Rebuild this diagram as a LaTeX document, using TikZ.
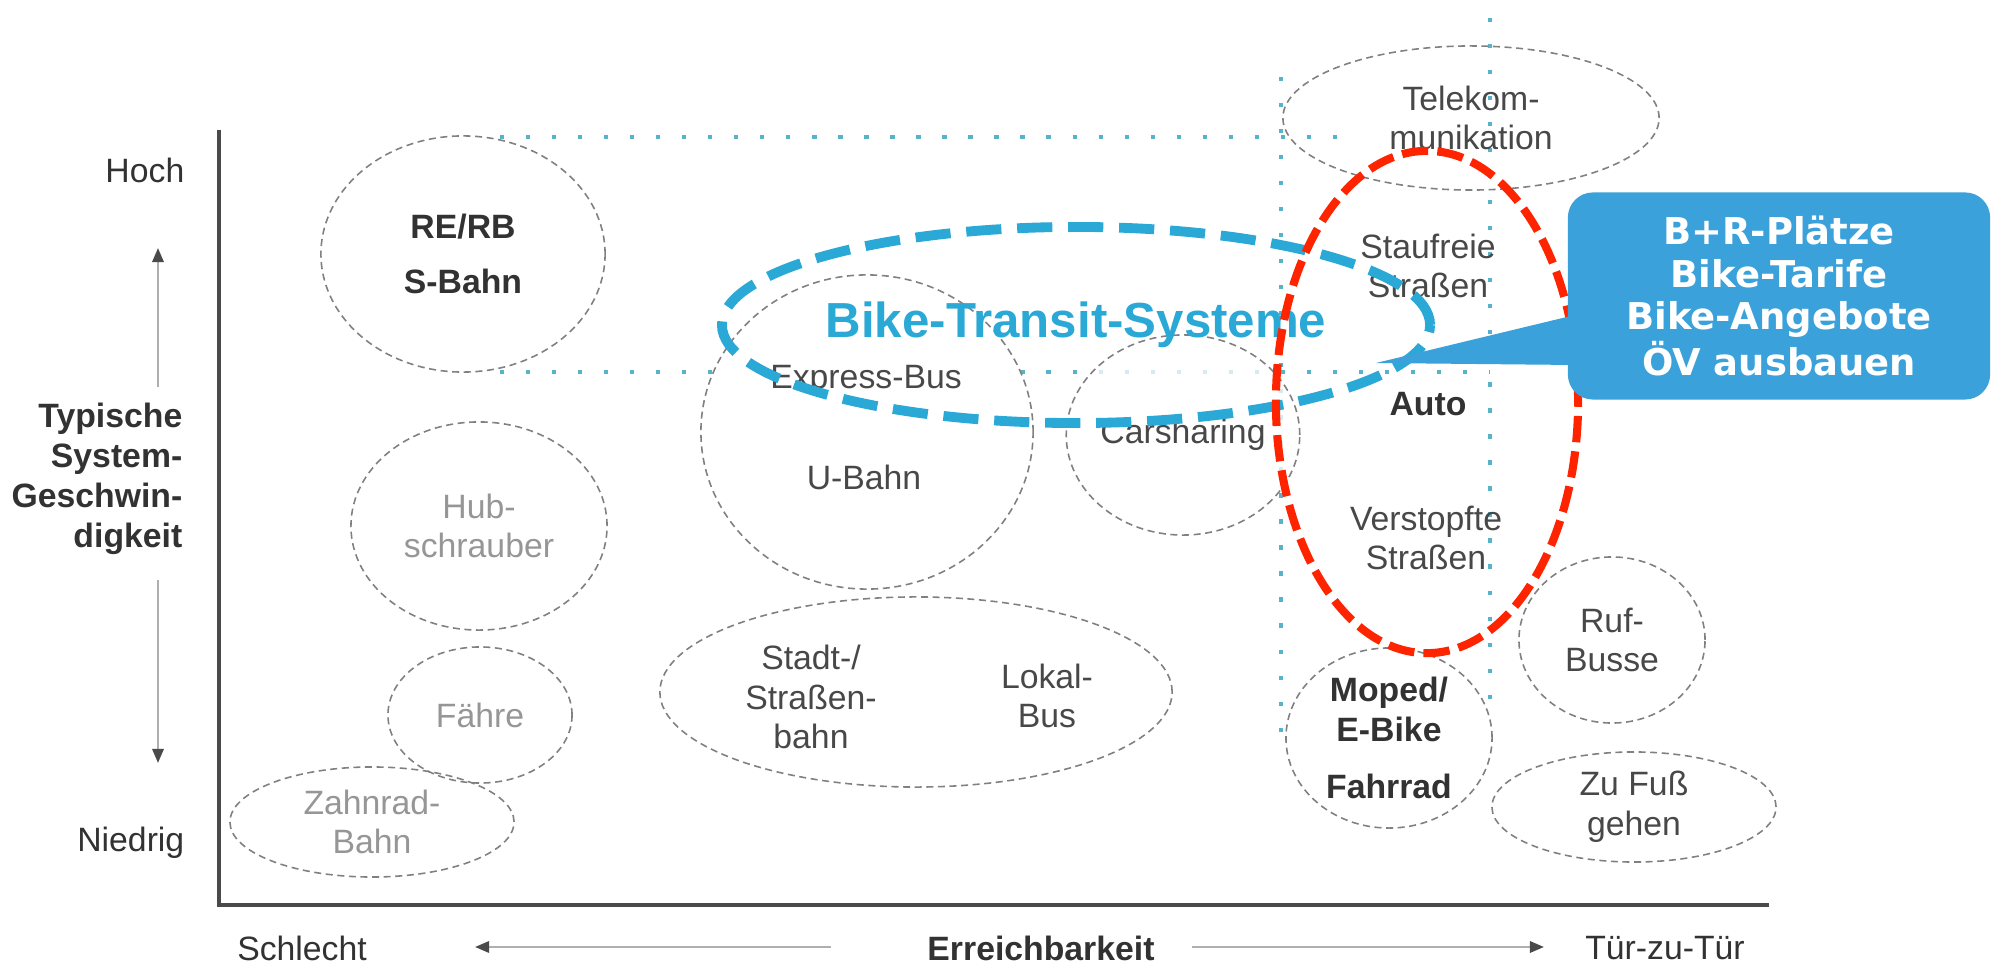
\documentclass[tikz,border=0pt]{standalone}
\usepackage{fontspec}
\setmainfont{Liberation Sans}
\newfontfamily\calloutfont{DejaVu Sans}
\usetikzlibrary{shapes.geometric,arrows.meta}

\definecolor{axisgray}{RGB}{74,74,74}
\definecolor{arrowgray}{RGB}{175,175,175}
\definecolor{ringgray}{RGB}{128,128,128}
\definecolor{modetext}{RGB}{72,72,72}
\definecolor{boldtext}{RGB}{50,50,50}
\definecolor{paletext}{RGB}{150,150,150}
\definecolor{btsblue}{RGB}{42,168,214}
\definecolor{dotblue}{RGB}{88,178,200}
\definecolor{hotred}{RGB}{255,36,0}
\definecolor{boxblue}{RGB}{58,161,218}

\newcommand\modesize{\fontsize{9.6}{11.3}\selectfont}

\tikzset{
  ringnode/.style={ellipse, draw=ringgray, line width=0.45pt,
    dash pattern=on 2pt off 1.3pt, inner sep=0pt, align=center,
    font=\modesize, text=modetext},
  modetxt/.style={align=center, font=\modesize, text=modetext, inner sep=0pt},
  boldtxt/.style={modetxt, font=\modesize\bfseries, text=boldtext},
  paletxt/.style={modetxt, text=paletext},
  axistxt/.style={inner sep=0pt, font=\modesize, text=boldtext},
  guide/.style={dotblue, line width=1.3pt, dash pattern=on 1.2pt off 6.2pt},
  hintarrow/.style={arrowgray, line width=0.7pt,
    -{Triangle[length=4pt,width=3.2pt,color=axisgray]}}
}

\begin{document}
\begin{tikzpicture}[x=0.01cm,y=-0.01cm]
  \useasboundingbox (0,0) rectangle (1993,967);

  % blue guide lines
  \coordinate (hiL) at (500,137);
  \coordinate (hiR) at (1350,137);
  \coordinate (loL) at (500,372);
  \coordinate (loR) at (1490,372);
  \coordinate (vAtop) at (1281,77);
  \coordinate (vAbot) at (1281,743);
  \coordinate (vBtop) at (1490,18);
  \coordinate (vBbot) at (1490,707);
  \draw[guide] (hiL) -- (hiR);
  \draw[guide] (loL) -- (loR);
  \draw[guide] (vAtop) -- (vAbot);
  \draw[guide] (vBtop) -- (vBbot);

  % axes
  \coordinate (ytop) at (219,130);
  \coordinate (origin) at (219,905);
  \coordinate (xend) at (1769,905);
  \draw[axisgray, line width=1.3pt] (ytop) -- (origin) -- (xend);

  \node[axistxt, anchor=east] (hoch) at (185,170) {Hoch};
  \node[axistxt, anchor=east] (niedrig) at (185,843) {Niedrig};
  \node[axistxt, anchor=east, align=right, font=\fontsize{9.6}{11.4}\selectfont\bfseries]
    (speed) at (183,479) {Typische\\System-\\Geschwin-\\digkeit};
  \node[axistxt] (schlecht) at (302,948) {Schlecht};
  \node[axistxt, font=\modesize\bfseries] (reach) at (1041,948) {Erreichbarkeit};
  \node[axistxt] (door) at (1665,948) {Tür-zu-Tür};

  \coordinate (upA) at (158,387);
  \coordinate (upB) at (158,248);
  \coordinate (dnA) at (158,580);
  \coordinate (dnB) at (158,763);
  \coordinate (ltA) at (831,947);
  \coordinate (ltB) at (475,947);
  \coordinate (rtA) at (1192,947);
  \coordinate (rtB) at (1544,947);
  \begin{scope}[hintarrow]
    \draw (upA) to (upB);
    \draw (dnA) to (dnB);
    \draw (ltA) to (ltB);
    \draw (rtA) to (rtB);
  \end{scope}

  % modes
  \node[ringnode, minimum width=28.4mm, minimum height=23.6mm,
    font=\modesize\bfseries, text=boldtext] (rerb) at (463,254) {RE/RB\\[4.5pt]S-Bahn};
  \node[ringnode, minimum width=25.6mm, minimum height=20.8mm, text=paletext]
    (hub) at (479,526) {Hub-\\schrauber};
  \node[ringnode, minimum width=18.4mm, minimum height=13.6mm, text=paletext]
    (faehre) at (480,715) {Fähre};
  \node[ringnode, minimum width=28.4mm, minimum height=11mm, text=paletext]
    (zahnrad) at (372,822) {Zahnrad-\\Bahn};

  \node[ringnode, fill=white, minimum width=33.2mm, minimum height=31.4mm] (ubahn) at (867,432) {};
  \node[modetxt] (express) at (866,380) {Express-Bus};
  \node[modetxt] (ubahntxt) at (864,477) {U-Bahn};
  \node[ringnode, fill=white, fill opacity=0.75, text opacity=1,
    minimum width=22.4mm, minimum height=20mm] (carsharing) at (1183,435) {Carsharing};

  \node[ringnode, minimum width=51.2mm, minimum height=19mm] (stadtbus) at (916,692) {};
  \node[modetxt] (stadt) at (811,697) {Stadt-/\\Straßen-\\bahn};
  \node[modetxt] (lokal) at (1047,696) {Lokal-\\Bus};

  \node[ringnode, minimum width=37.6mm, minimum height=14.4mm] (telekom) at (1471,118) {Telekom-\\munikation};

  \node[ringnode, minimum width=20.6mm, minimum height=18mm,
    font=\modesize\bfseries, text=boldtext] (moped) at (1389,738) {Moped/\\E-Bike\\[5pt]Fahrrad};
  \node[ringnode, minimum width=18.6mm, minimum height=16.6mm] (rufbus) at (1612,640) {Ruf-\\Busse};
  \node[ringnode, minimum width=28.4mm, minimum height=11mm] (fuss) at (1634,807) {Zu Fuß\\gehen};

  \node[modetxt] (staufrei) at (1428,266) {Staufreie\\Straßen};
  \node[boldtxt] (auto) at (1428,404) {Auto};
  \node[modetxt] (verstopft) at (1426,538) {Verstopfte\\Straßen};

  % highlights
  \node[ellipse, draw=btsblue, line width=2.8pt, dash pattern=on 10pt off 4.5pt,
    minimum width=59.4mm, minimum height=19.6mm, inner sep=0pt,
    font=\fontsize{14}{16}\selectfont\bfseries, text=btsblue] (bts) at (1076,325) {Bike-Transit-Systeme};
  \node[ellipse, draw=hotred, line width=2.3pt, dash pattern=on 7.5pt off 2.6pt,
    minimum width=30.2mm, minimum height=50.2mm, inner sep=0pt] (roads) at (1427,402) {};

  % callout
  \node[fill=boxblue, rounded corners=2.5mm, minimum width=42.2mm, minimum height=20.7mm,
    inner sep=0pt, align=center, text=white,
    font=\calloutfont\fontsize{10.5}{12}\selectfont\bfseries] (callout) at (1779,296)
    {B+R-Plätze\\Bike-Tarife\\Bike-Angebote\\ÖV ausbauen};
  \coordinate (ptip) at (1376,363);
  \coordinate (pbaseA) at (1575,315);
  \coordinate (pbaseB) at (1575,365);
  \fill[boxblue] (ptip) -- (pbaseA) -- (pbaseB) -- cycle;
\end{tikzpicture}
\end{document}
